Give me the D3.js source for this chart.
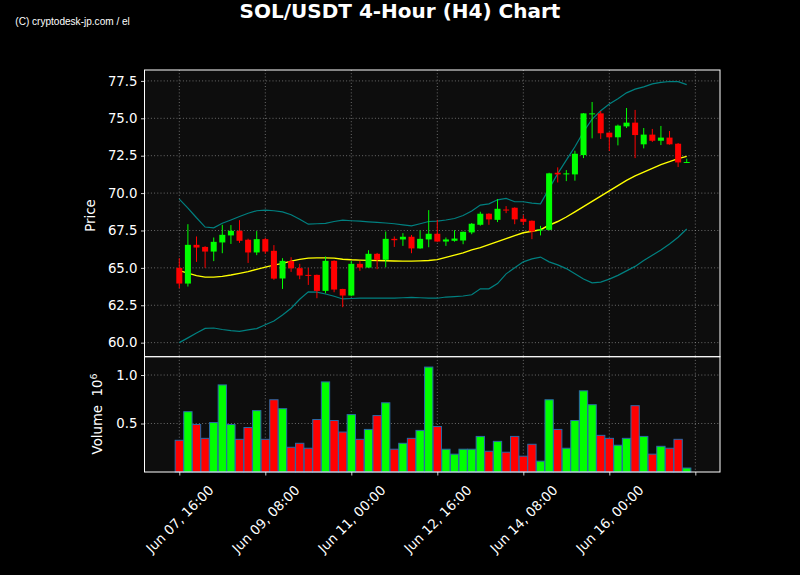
<!DOCTYPE html>
<html><head><meta charset="utf-8">
<script src="https://cdn.jsdelivr.net/npm/d3@7"></script>
<style>body{margin:0;background:#000;} svg{display:block;}</style>
</head><body>
<svg id="chart" width="800" height="575"></svg>
<script>
// ---------------- DATA ----------------
const times = [
 "2024-06-07T16:00","2024-06-07T20:00",
 "2024-06-08T00:00","2024-06-08T04:00","2024-06-08T08:00","2024-06-08T12:00","2024-06-08T16:00","2024-06-08T20:00",
 "2024-06-09T00:00","2024-06-09T04:00","2024-06-09T08:00","2024-06-09T12:00","2024-06-09T16:00","2024-06-09T20:00",
 "2024-06-10T00:00","2024-06-10T04:00","2024-06-10T08:00","2024-06-10T12:00","2024-06-10T16:00","2024-06-10T20:00",
 "2024-06-11T00:00","2024-06-11T04:00","2024-06-11T08:00","2024-06-11T12:00","2024-06-11T16:00","2024-06-11T20:00",
 "2024-06-12T00:00","2024-06-12T04:00","2024-06-12T08:00","2024-06-12T12:00","2024-06-12T16:00","2024-06-12T20:00",
 "2024-06-13T00:00","2024-06-13T04:00","2024-06-13T08:00","2024-06-13T12:00","2024-06-13T16:00","2024-06-13T20:00",
 "2024-06-14T00:00","2024-06-14T04:00","2024-06-14T08:00","2024-06-14T12:00","2024-06-14T16:00","2024-06-14T20:00",
 "2024-06-15T00:00","2024-06-15T04:00","2024-06-15T08:00","2024-06-15T12:00","2024-06-15T16:00","2024-06-15T20:00",
 "2024-06-16T00:00","2024-06-16T04:00","2024-06-16T08:00","2024-06-16T12:00","2024-06-16T16:00","2024-06-16T20:00",
 "2024-06-17T00:00","2024-06-17T04:00","2024-06-17T08:00","2024-06-17T12:00"
];
const opens  = [65.0,63.95,66.54,66.4,66.09,66.7,67.17,67.48,66.88,66.03,66.92,66.14,64.29,65.45,64.98,64.53,64.53,63.46,65.47,63.59,
                63.15,65.27,65.02,65.94,65.54,66.94,66.9,67.08,66.3,66.9,67.28,66.76,66.81,66.83,67.37,67.88,68.62,68.21,68.9,69.02,
                68.28,68.15,67.5,67.54,71.36,71.25,71.25,72.54,75.27,75.33,74.04,73.73,74.46,74.71,73.26,73.91,73.5,73.71,73.3,72.03];
const highs  = [65.65,67.92,67.1,66.45,67.03,67.88,67.86,68.19,66.95,67.46,67.0,66.52,65.65,65.71,65.27,65.0,64.55,65.76,65.5,63.6,
                65.47,65.47,66.18,66.0,67.43,67.1,67.32,67.2,67.5,68.86,68.21,67.03,67.52,67.43,68.0,68.75,68.65,69.6,69.13,69.05,
                68.53,68.17,67.81,71.36,71.72,71.54,72.83,75.35,76.09,75.49,74.06,74.58,75.69,75.56,74.35,74.29,74.49,74.15,73.35,72.3];
const lows   = [63.64,63.75,65.4,65.0,65.45,65.98,66.6,66.67,65.33,65.85,65.94,64.2,63.59,64.73,64.24,63.86,62.97,63.3,63.37,62.37,
                63.1,64.8,65.0,64.91,65.04,66.4,66.47,65.98,66.28,66.38,66.74,66.47,66.75,66.58,67.25,67.82,67.88,68.06,68.66,67.92,
                67.86,66.92,67.17,67.5,70.71,70.8,70.83,72.34,73.66,73.62,72.81,73.19,74.35,72.34,72.99,73.42,73.21,73.24,71.74,72.01];
const closes = [63.95,66.54,66.36,66.09,66.74,67.21,67.48,66.81,66.03,66.92,66.09,64.28,65.47,64.97,64.49,64.47,63.46,65.47,63.55,63.15,
                65.27,65.02,65.94,65.54,66.94,66.85,67.08,66.3,66.94,67.28,66.76,66.9,66.96,67.41,67.95,68.62,68.24,68.95,68.84,68.24,
                68.08,67.43,67.57,71.32,71.25,71.32,72.63,75.33,75.33,74.0,73.73,74.51,74.71,73.88,73.91,73.5,73.71,73.26,72.05,72.08];
const volumes = [0.327,0.622,0.49,0.347,0.51,0.898,0.49,0.337,0.459,0.633,0.337,0.745,0.653,0.255,0.296,0.245,0.541,0.929,0.531,0.412,
                 0.592,0.337,0.439,0.582,0.714,0.235,0.296,0.347,0.429,1.082,0.469,0.235,0.184,0.235,0.235,0.367,0.214,0.316,0.204,0.367,
                 0.163,0.286,0.112,0.745,0.439,0.245,0.531,0.837,0.694,0.378,0.347,0.276,0.347,0.684,0.367,0.184,0.265,0.245,0.337,0.041];
const sma = [64.82,64.65,64.48,64.38,64.38,64.43,64.52,64.63,64.75,64.9,65.05,65.18,65.3,65.45,65.57,65.65,65.67,65.67,65.65,65.58,
             65.54,65.52,65.5,65.49,65.48,65.46,65.45,65.45,65.47,65.49,65.55,65.7,65.85,66.0,66.2,66.35,66.55,66.75,66.95,67.15,
             67.35,67.45,67.55,67.85,68.1,68.4,68.75,69.1,69.45,69.8,70.15,70.5,70.85,71.15,71.4,71.65,71.9,72.1,72.3,72.45];
const upperBand = [69.6,69.0,68.35,67.73,67.68,67.98,68.2,68.43,68.65,68.82,68.86,68.82,68.74,68.55,68.25,67.92,67.95,67.98,68.1,68.19,
                   68.15,68.12,68.08,68.04,68.0,67.95,67.88,67.81,67.95,68.1,68.13,68.2,68.3,68.5,68.8,69.2,69.28,69.55,69.65,69.42,
                   69.42,69.33,69.28,70.3,71.3,72.2,73.1,74.1,74.95,75.5,75.95,76.3,76.7,76.95,77.1,77.3,77.4,77.46,77.45,77.25];
const lowerBand = [60.0,60.32,60.65,60.95,60.98,60.88,60.8,60.75,60.85,60.94,61.2,61.45,61.85,62.3,62.9,63.4,63.38,63.25,63.1,62.92,
                   62.95,62.97,62.97,62.97,62.97,62.98,63.0,63.03,63.0,62.98,62.97,63.05,63.08,63.12,63.2,63.6,63.6,63.95,64.6,65.0,
                   65.4,65.6,65.72,65.4,65.2,64.95,64.6,64.25,64.0,64.05,64.25,64.5,64.8,65.1,65.5,65.85,66.2,66.6,67.05,67.6];
const tickTimes  = ["2024-06-07T16:00","2024-06-09T08:00","2024-06-11T00:00","2024-06-12T16:00","2024-06-14T08:00","2024-06-16T00:00","2024-06-17T16:00"];
const tickLabels = ["Jun 07, 16:00","Jun 09, 08:00","Jun 11, 00:00","Jun 12, 16:00","Jun 14, 08:00","Jun 16, 00:00",""];
const priceTicks = [60.0,62.5,65.0,67.5,70.0,72.5,75.0,77.5];
const volumeTicks = [0.5,1.0];

// ---------------- LAYOUT ----------------
const parse = d3.timeParse("%Y-%m-%dT%H:%M");
const T = times.map(parse);
const ticksT = tickTimes.map(parse);
const H4 = 4*3600*1000;
const L = 144.5, R = 720;
const pTop = 70, pBot = 356.7, vTop = 356.7, vBot = 472;
const x = d3.scaleTime()
  .domain([new Date(+T[0] - 4.047*H4), new Date(+T[0] + 62.87*H4)])
  .range([L, R]);
const yP = d3.scaleLinear().domain([59.06, 78.23]).range([pBot, pTop]);
const yV = d3.scaleLinear().domain([0, 1.189]).range([vBot, vTop]);
const step = x(new Date(+T[0]+H4)) - x(T[0]);
const bodyW = step*0.7, volW = step*0.965;

const GREEN = "#00ff00", RED = "#ff0000";
const svg = d3.select("#chart");
svg.append("rect").attr("width",800).attr("height",575).attr("fill","#000");

// panel backgrounds
svg.append("rect").attr("x",L).attr("y",pTop).attr("width",R-L).attr("height",pBot-pTop).attr("fill","#0d0d0d");
svg.append("rect").attr("x",L).attr("y",vTop).attr("width",R-L).attr("height",vBot-vTop).attr("fill","#0d0d0d");

const gridStyle = s => s.attr("stroke","#9a9a9a").attr("stroke-width",0.8).attr("stroke-dasharray","1,2.2").attr("opacity",0.85);

// grids price
const gp = svg.append("g");
gp.selectAll(".hg").data(priceTicks).join("line")
  .attr("x1",L).attr("x2",R).attr("y1",d=>yP(d)).attr("y2",d=>yP(d)).call(gridStyle);
gp.selectAll(".vg").data(ticksT).join("line")
  .attr("x1",d=>x(d)).attr("x2",d=>x(d)).attr("y1",pTop).attr("y2",pBot).call(gridStyle);
// grids volume
const gv = svg.append("g");
gv.selectAll(".hg").data(volumeTicks).join("line")
  .attr("x1",L).attr("x2",R).attr("y1",d=>yV(d)).attr("y2",d=>yV(d)).call(gridStyle);
gv.selectAll(".vg").data(ticksT).join("line")
  .attr("x1",d=>x(d)).attr("x2",d=>x(d)).attr("y1",vTop).attr("y2",vBot).call(gridStyle);

const idx = d3.range(times.length);

// Bands & SMA
const mkLine = arr => d3.line().x(i=>x(T[i])).y(i=>yP(arr[i]));
svg.append("path").datum(idx).attr("d",mkLine(upperBand)).attr("fill","none").attr("stroke","#008080").attr("stroke-width",1.2);
svg.append("path").datum(idx).attr("d",mkLine(lowerBand)).attr("fill","none").attr("stroke","#008080").attr("stroke-width",1.2);
svg.append("path").datum(idx).attr("d",mkLine(sma)).attr("fill","none").attr("stroke","#ffff00").attr("stroke-width",1.4);

// Candles
const cg = svg.append("g");
idx.forEach(i=>{
  const c = closes[i] >= opens[i] ? GREEN : RED;
  const cx = x(T[i]);
  cg.append("line").attr("x1",cx).attr("x2",cx).attr("y1",yP(highs[i])).attr("y2",yP(lows[i]))
    .attr("stroke",c).attr("stroke-width",1);
  const y1 = yP(Math.max(opens[i],closes[i])), y2 = yP(Math.min(opens[i],closes[i]));
  cg.append("rect").attr("x",cx-bodyW/2).attr("width",bodyW).attr("y",y1).attr("height",Math.max(1,y2-y1)).attr("fill",c);
});

// Volume bars
svg.append("g").selectAll("rect").data(idx).join("rect")
  .attr("x",i=>x(T[i])-volW/2).attr("width",volW)
  .attr("y",i=>yV(volumes[i])).attr("height",i=>yV(0)-yV(volumes[i]))
  .attr("fill",i=>closes[i]>=opens[i]?GREEN:RED)
  .attr("stroke","#2a6aa8").attr("stroke-width",1);

// Spines
[[pTop,pBot],[vTop,vBot]].forEach(([t,b])=>{
  svg.append("rect").attr("x",L).attr("y",t).attr("width",R-L).attr("height",b-t)
    .attr("fill","none").attr("stroke","#fff").attr("stroke-width",1);
});

const styleAxis = g => {
  g.select(".domain").remove();
  g.selectAll(".tick line").attr("stroke","#fff").attr("stroke-width",0.8);
  g.selectAll("text").attr("fill","#fff").style("font-family","'DejaVu Sans'").style("font-size","13.3px");
};
// Y axes
svg.append("g").attr("transform",`translate(${L},0)`)
  .call(d3.axisLeft(yP).tickValues(priceTicks).tickFormat(d3.format(".1f")).tickSize(3.5).tickPadding(3.5))
  .call(styleAxis);
svg.append("g").attr("transform",`translate(${L},0)`)
  .call(d3.axisLeft(yV).tickValues(volumeTicks).tickFormat(d3.format(".1f")).tickSize(3.5).tickPadding(3.5))
  .call(styleAxis);
// X axis
const xa = svg.append("g").attr("transform",`translate(0,${vBot})`)
  .call(d3.axisBottom(x).tickValues(ticksT).tickFormat((d,i)=>tickLabels[i]).tickSize(3.5))
  .call(styleAxis);
xa.selectAll("text").attr("x",0).attr("y",0).attr("dy","0.35em")
  .attr("transform","translate(0,47) rotate(-45)").style("text-anchor","middle");

// Labels
svg.append("text").attr("transform","translate(90,215.5) rotate(-90)")
  .attr("text-anchor","middle").attr("dy","0.35em").attr("fill","#fff")
  .style("font-family","'DejaVu Sans'").style("font-size","13.3px").text("Price");
const vl = svg.append("text").attr("transform","translate(97,414) rotate(-90)")
  .attr("text-anchor","middle").attr("dy","0.35em").attr("fill","#fff")
  .style("font-family","'DejaVu Sans'").style("font-size","13.3px");
vl.append("tspan").text("Volume\u00a0\u00a010");
vl.append("tspan").attr("dy","-0.45em").style("font-size","9.5px").text("6");

// Title & watermark
svg.append("text").attr("x",400).attr("y",18).attr("text-anchor","middle").attr("fill","#fff")
  .style("font-family","'DejaVu Sans'").style("font-weight","bold").style("font-size","20px")
  .text("SOL/USDT 4-Hour (H4) Chart");
svg.append("text").attr("x",15.3).attr("y",24.5).attr("fill","#fff")
  .attr("textLength",114.5).attr("lengthAdjust","spacingAndGlyphs")
  .style("font-family","'Liberation Sans'").style("font-size","10px")
  .text("(C) cryptodesk-jp.com / el");
</script>
</body></html>
